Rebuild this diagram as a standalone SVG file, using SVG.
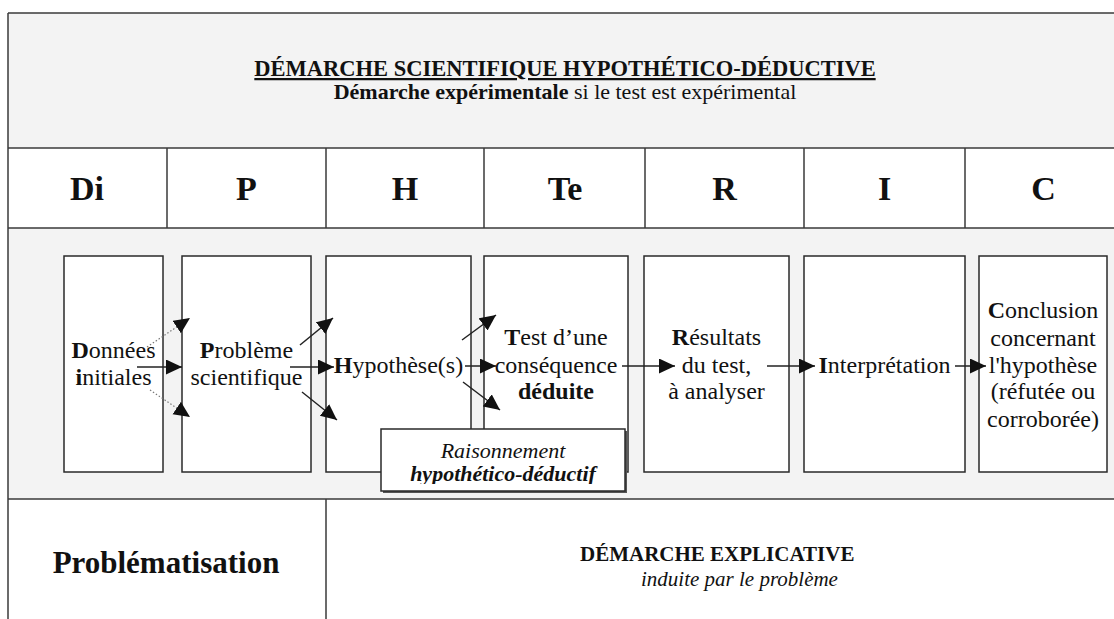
<svg xmlns="http://www.w3.org/2000/svg" width="1114" height="619" viewBox="0 0 1114 619">
  <style>
    text { font-family: "Liberation Serif", "Times New Roman", serif; fill: #111; }
    .box { fill: #ffffff; stroke: #2a2a2a; stroke-width: 1.5; }
    .frame { stroke: #3a3a3a; stroke-width: 1.5; fill: none; }
    .txt { font-size: 24px; text-anchor: middle; }
    .letter { font-size: 34px; font-weight: bold; text-anchor: middle; }
    .b { font-weight: bold; }
    .solid { stroke: #222; stroke-width: 1.5; fill: none; }
    .dotted { stroke: #777; stroke-width: 1.2; stroke-dasharray: 1.5 2; fill: none; }
  </style>
  <defs>
    <marker id="ah" markerUnits="userSpaceOnUse" markerWidth="17" markerHeight="16" refX="16" refY="7.5" orient="auto">
      <path d="M0,0 L16,7.5 L0,15 z" fill="#111"/>
    </marker>
    <clipPath id="rclip">
      <rect x="382" y="430" width="242" height="54"/>
    </clipPath>
  </defs>

  <!-- background bands -->
  <g id="bands">
    <rect x="8" y="13" width="1120" height="135" fill="#f3f3f3"/>
    <rect x="8" y="148" width="1120" height="80" fill="#ffffff"/>
    <rect x="8" y="228" width="1120" height="271" fill="#f3f3f3"/>
    <rect x="8" y="499" width="1120" height="130" fill="#ffffff"/>
    <line class="frame" x1="8" y1="13" x2="1114" y2="13"/>
    <line class="frame" x1="8" y1="13" x2="8" y2="619"/>
    <line class="frame" x1="8" y1="148" x2="1114" y2="148"/>
    <line class="frame" x1="8" y1="228" x2="1114" y2="228"/>
    <line class="frame" x1="8" y1="499" x2="1114" y2="499"/>
    <line class="frame" x1="167" y1="148" x2="167" y2="228"/>
    <line class="frame" x1="326" y1="148" x2="326" y2="228"/>
    <line class="frame" x1="484" y1="148" x2="484" y2="228"/>
    <line class="frame" x1="645" y1="148" x2="645" y2="228"/>
    <line class="frame" x1="804" y1="148" x2="804" y2="228"/>
    <line class="frame" x1="965" y1="148" x2="965" y2="228"/>
    <line class="frame" x1="326" y1="499" x2="326" y2="619"/>
  </g>

  <g id="title">
    <text x="565" y="76" font-size="22.5" font-weight="bold" text-anchor="middle" text-decoration="underline">DÉMARCHE SCIENTIFIQUE HYPOTHÉTICO-DÉDUCTIVE</text>
    <text x="565" y="99" font-size="22" text-anchor="middle"><tspan class="b">Démarche expérimentale</tspan> si le test est expérimental</text>
  </g>

  <g id="letters">
    <text class="letter" x="87" y="200">Di</text>
    <text class="letter" x="246.5" y="200">P</text>
    <text class="letter" x="405" y="200">H</text>
    <text class="letter" x="565" y="200">Te</text>
    <text class="letter" x="724.5" y="200">R</text>
    <text class="letter" x="884.5" y="200">I</text>
    <text class="letter" x="1043.5" y="200">C</text>
  </g>

  <g id="node-di">
    <rect class="box" x="64" y="256" width="99" height="216"/>
    <text class="txt" x="113.5" y="358"><tspan class="b">D</tspan>onnées</text>
    <text class="txt" x="113.5" y="385"><tspan class="b">i</tspan>nitiales</text>
  </g>
  <g id="node-p">
    <rect class="box" x="182" y="256" width="129" height="216"/>
    <text class="txt" x="246.5" y="358"><tspan class="b">P</tspan>roblème</text>
    <text class="txt" x="246.5" y="385">scientifique</text>
  </g>
  <g id="node-h">
    <rect class="box" x="326" y="256" width="145" height="216"/>
    <text class="txt" x="398.5" y="373"><tspan class="b">H</tspan>ypothèse(s)</text>
  </g>
  <g id="node-te">
    <rect class="box" x="484" y="256" width="144" height="216"/>
    <text class="txt" x="556" y="345"><tspan class="b">T</tspan>est d’une</text>
    <text class="txt" x="556" y="373">conséquence</text>
    <text class="txt b" x="556" y="399">déduite</text>
  </g>
  <g id="node-r">
    <rect class="box" x="644" y="256" width="145" height="216"/>
    <text class="txt" x="716.5" y="345"><tspan class="b">R</tspan>ésultats</text>
    <text class="txt" x="716.5" y="373">du test,</text>
    <text class="txt" x="716.5" y="399">à analyser</text>
  </g>
  <g id="node-i">
    <rect class="box" x="804" y="256" width="161" height="216"/>
    <text class="txt" x="884.5" y="373"><tspan class="b">I</tspan>nterprétation</text>
  </g>
  <g id="node-c">
    <rect class="box" x="979" y="256" width="128" height="216"/>
    <text class="txt" x="1043" y="318"><tspan class="b">C</tspan>onclusion</text>
    <text class="txt" x="1043" y="346">concernant</text>
    <text class="txt" x="1043" y="373">l'hypothèse</text>
    <text class="txt" x="1043" y="399">(réfutée ou</text>
    <text class="txt" x="1043" y="427">corroborée)</text>
  </g>

  <g id="connectors">
    <line class="solid" x1="137" y1="367" x2="182" y2="367" marker-end="url(#ah)"/>
    <line class="dotted" x1="147" y1="347" x2="190" y2="318" marker-end="url(#ah)"/>
    <line class="dotted" x1="150" y1="390" x2="190" y2="417" marker-end="url(#ah)"/>
    <line class="solid" x1="290" y1="367" x2="334" y2="367" marker-end="url(#ah)"/>
    <line class="solid" x1="300" y1="345" x2="333" y2="318" marker-end="url(#ah)"/>
    <line class="solid" x1="302" y1="392" x2="337" y2="420" marker-end="url(#ah)"/>
    <line class="solid" x1="465" y1="366" x2="496" y2="366" marker-end="url(#ah)"/>
    <line class="solid" x1="462" y1="340" x2="496" y2="315" marker-end="url(#ah)"/>
    <line class="solid" x1="463" y1="382" x2="500" y2="410" marker-end="url(#ah)"/>
    <line class="solid" x1="622" y1="366" x2="675" y2="366" marker-end="url(#ah)"/>
    <line class="solid" x1="767" y1="366" x2="815" y2="366" marker-end="url(#ah)"/>
    <line class="solid" x1="955" y1="366" x2="986" y2="366" marker-end="url(#ah)"/>
  </g>

  <g id="node-raisonnement">
    <rect x="383" y="431" width="244" height="62" fill="#555"/>
    <rect class="box" x="381" y="429" width="244" height="62" stroke-width="1.2"/>
    <text x="503" y="458" font-size="22" font-style="italic" text-anchor="middle">Raisonnement</text>
    <text x="503" y="481" font-size="22" font-style="italic" font-weight="bold" text-anchor="middle" clip-path="url(#rclip)">hypothético-déductif</text>
  </g>

  <g id="bottom">
    <text x="166" y="573" font-size="31" font-weight="bold" text-anchor="middle">Problématisation</text>
    <text x="580" y="561" font-size="21" font-weight="bold">DÉMARCHE EXPLICATIVE</text>
    <text x="641" y="586" font-size="21" font-style="italic">induite par le problème</text>
  </g>
</svg>
